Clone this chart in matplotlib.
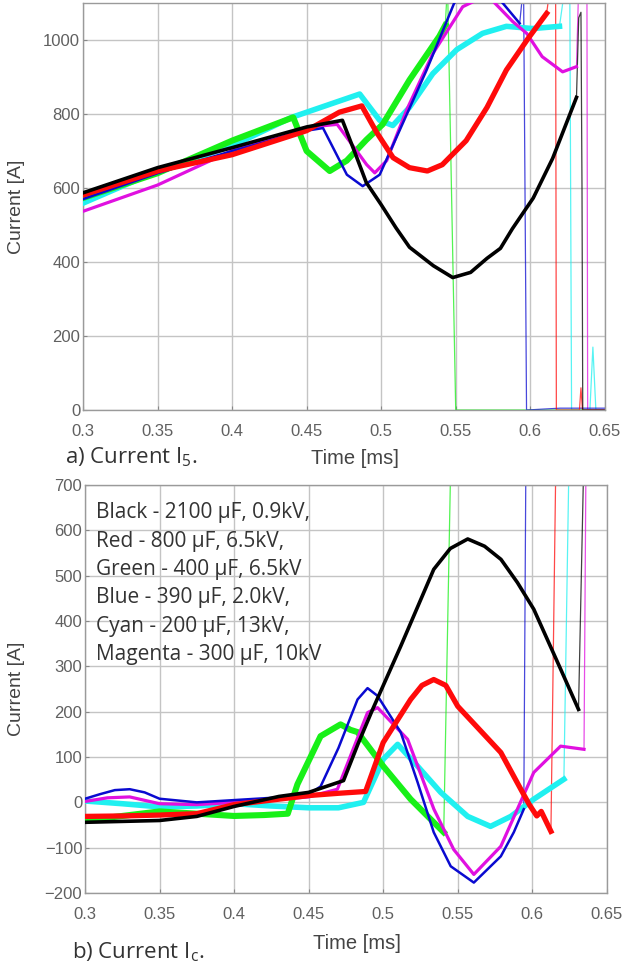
import matplotlib
matplotlib.use("Agg")
import matplotlib.pyplot as plt

# ---- panel a) current I5, time in ms, current in A ----
black_t_a = [0.30, 0.35, 0.40, 0.45, 0.474, 0.482, 0.490, 0.500, 0.510, 0.519, 0.535, 0.548, 0.560, 0.571, 0.580, 0.588, 0.602, 0.615, 0.631]
black_i_a = [587, 655, 709, 765, 783, 700, 615, 555, 492, 440, 390, 358, 372, 410, 437, 490, 573, 680, 845]
black_tail_t_a = [0.631, 0.6325, 0.634, 0.6347, 0.6352, 0.65]
black_tail_i_a = [845, 1060, 1075, 600, 0, 0]

red_t_a = [0.30, 0.35, 0.40, 0.45, 0.472, 0.487, 0.497, 0.508, 0.519, 0.531, 0.541, 0.557, 0.571, 0.584, 0.598, 0.602, 0.611]
red_i_a = [581, 646, 690, 755, 805, 822, 750, 682, 655, 646, 663, 728, 818, 919, 1001, 1023, 1072]
red_tail_t_a = [0.611, 0.6135, 0.617, 0.6175, 0.633, 0.634, 0.635, 0.65]
red_tail_i_a = [1072, 1150, 1150, 0, 0, 60, 0, 0]

green_t_a = [0.30, 0.35, 0.40, 0.441, 0.450, 0.4655, 0.4769, 0.490, 0.501, 0.519, 0.539, 0.543]
green_i_a = [573, 640, 728, 791, 700, 646, 674, 730, 772, 892, 1010, 1040]
green_tail_t_a = [0.543, 0.5445, 0.550, 0.65]
green_tail_i_a = [1040, 1150, 0, 0]

blue_t_a = [0.30, 0.35, 0.40, 0.45, 0.461, 0.477, 0.4876, 0.499, 0.5124, 0.5305, 0.549, 0.556, 0.565, 0.575, 0.5815, 0.5929]
blue_i_a = [570, 640, 700, 755, 762, 636, 605, 636, 756, 919, 1100, 1125, 1135, 1125, 1100, 1045]
blue_tail_t_a = [0.5929, 0.5955, 0.5975, 0.62, 0.65]
blue_tail_i_a = [1045, 1150, 0, 5, 5]

magenta_t_a = [0.30, 0.35, 0.40, 0.45, 0.4705, 0.4903, 0.4957, 0.5037, 0.517, 0.5346, 0.5547, 0.565, 0.575, 0.5882, 0.5976, 0.608, 0.6217, 0.631]
magenta_i_a = [537, 608, 701, 764, 772, 663, 641, 674, 810, 963, 1090, 1110, 1105, 1050, 1018, 955, 914, 928]
magenta_tail_t_a = [0.631, 0.6325, 0.638, 0.6385, 0.65]
magenta_tail_i_a = [928, 1150, 1150, 0, 0]

cyan_t_a = [0.30, 0.35, 0.40, 0.44, 0.4856, 0.499, 0.5078, 0.519, 0.5346, 0.5507, 0.568, 0.584, 0.6016, 0.6196]
cyan_i_a = [559, 646, 714, 791, 854, 783, 769, 818, 909, 974, 1018, 1037, 1031, 1037]
cyan_tail_t_a = [0.6196, 0.6235, 0.6265, 0.6277, 0.640, 0.642, 0.644, 0.65]
cyan_tail_i_a = [1037, 1150, 1150, 0, 0, 170, 0, 0]

# ---- panel b) current Ic ----
black_t_b = [0.30, 0.325, 0.35, 0.375, 0.40, 0.43, 0.45, 0.4734, 0.483, 0.4929, 0.5117, 0.5339, 0.545, 0.5567, 0.568, 0.579, 0.590, 0.601, 0.619, 0.631]
black_i_b = [-44, -42, -40, -31, -9, 13, 22, 48, 128, 205, 344, 514, 560, 581, 565, 536, 485, 426, 294, 205]
black_tail_t_b = [0.631, 0.6345, 0.636]
black_tail_i_b = [205, 750, 750]

red_t_b = [0.30, 0.325, 0.35, 0.375, 0.40, 0.425, 0.45, 0.47, 0.4882, 0.50, 0.5184, 0.526, 0.5339, 0.542, 0.55, 0.5789, 0.5923, 0.598, 0.603, 0.606, 0.6125]
red_i_b = [-31, -30, -28, -25, -5, 5, 15, 20, 24, 132, 227, 258, 271, 258, 212, 110, 29, -5, -30, -20, -64]
red_tail_t_b = [0.6125, 0.6158, 0.617]
red_tail_i_b = [-64, 750, 750]

green_t_b = [0.30, 0.325, 0.35, 0.375, 0.40, 0.42, 0.436, 0.4425, 0.458, 0.4714, 0.478, 0.4828, 0.50, 0.5184, 0.5339, 0.5406]
green_i_b = [-40, -30, -20, -25, -30, -28, -25, 40, 146, 172, 160, 155, 80, 7, -44, -66]
green_tail_t_b = [0.5406, 0.5453, 0.546]
green_tail_i_b = [-66, 750, 750]

blue_t_b = [0.30, 0.31, 0.32, 0.33, 0.34, 0.35, 0.375, 0.40, 0.425, 0.45, 0.458, 0.470, 0.4828, 0.4895, 0.4962, 0.5117, 0.5231, 0.5339, 0.5453, 0.5608, 0.5789, 0.5876, 0.5943]
blue_i_b = [8, 18, 27, 29, 22, 8, 0, 5, 10, 18, 35, 120, 227, 252, 235, 155, 44, -66, -141, -177, -119, -66, -15]
blue_tail_t_b = [0.5943, 0.5957, 0.597]
blue_tail_i_b = [-15, 750, 750]

magenta_t_b = [0.30, 0.315, 0.33, 0.35, 0.375, 0.40, 0.425, 0.45, 0.4693, 0.4895, 0.4962, 0.5164, 0.534, 0.5473, 0.5608, 0.5789, 0.590, 0.601, 0.619, 0.6347]
magenta_i_b = [2, 10, 12, -3, -5, 0, 5, 12, 29, 198, 209, 139, -15, -104, -159, -97, -15, 66, 124, 117]
magenta_tail_t_b = [0.6347, 0.636, 0.637]
magenta_tail_i_b = [117, 750, 750]

cyan_t_b = [0.30, 0.325, 0.35, 0.375, 0.40, 0.425, 0.45, 0.47, 0.4868, 0.50, 0.5097, 0.523, 0.5386, 0.5567, 0.572, 0.5856, 0.601, 0.6212]
cyan_i_b = [3, -3, -10, -8, -3, -8, -12, -12, 0, 95, 128, 80, 22, -31, -53, -31, 7, 51]
cyan_tail_t_b = [0.6212, 0.6246, 0.626]
cyan_tail_i_b = [51, 750, 750]

x_ticks = [0.3, 0.35, 0.4, 0.45, 0.5, 0.55, 0.6, 0.65]
x_tick_labels = ["0.3", "0.35", "0.4", "0.45", "0.5", "0.55", "0.6", "0.65"]

legend_lines = [
    "Black - 2100 \u00b5F, 0.9kV,",
    "Red - 800 \u00b5F, 6.5kV,",
    "Green - 400 \u00b5F, 6.5kV",
    "Blue - 390 \u00b5F, 2.0kV,",
    "Cyan - 200 \u00b5F, 13kV,",
    "Magenta - 300 \u00b5F, 10kV",
]

plt.rcParams["mathtext.fontset"] = "custom"
plt.rcParams["mathtext.rm"] = "Open Sans"

COL = {"black": "#000000", "red": "#ff0a0a", "green": "#18f018", "blue": "#0a0ad0",
       "magenta": "#e010e0", "cyan": "#20f0f0"}
LW = {"black": 2.6, "red": 3.8, "green": 4.4, "blue": 1.8, "magenta": 2.3, "cyan": 4.0}
ORDER = ["cyan", "green", "magenta", "blue", "red", "black"]


def style_axes(ax, ylim, yticks, ylab_x, xlab_y):
    ax.set_xlim(0.3, 0.65)
    ax.set_ylim(*ylim)
    ax.set_xticks(x_ticks)
    ax.set_xticklabels(x_tick_labels)
    ax.set_yticks(yticks)
    ax.grid(True, color="#c4c4c4", linewidth=1.0)
    ax.set_axisbelow(True)
    for s in ax.spines.values():
        s.set_color("#9a9a9a")
        s.set_linewidth(1.0)
    ax.tick_params(direction="in", length=3, color="#888888", labelcolor="#606060",
                   labelsize=12)
    ax.tick_params(axis="x", pad=10)
    ax.tick_params(axis="y", pad=2)
    for lab in ax.get_xticklabels() + ax.get_yticklabels():
        lab.set_family("Liberation Sans")
    ax.set_ylabel("Current [A]", family="Liberation Sans", fontsize=14, color="#444444", va="center")
    ax.set_xlabel("Time [ms]", family="Liberation Sans", fontsize=14.5, color="#444444", va="center")
    ax.yaxis.set_label_coords(ylab_x, 0.5)
    ax.xaxis.set_label_coords(0.521, xlab_y)


def draw(ax, data):
    for name in ORDER:
        t, i, tt, ti = data[name]
        ax.plot(tt, ti, color=COL[name], linewidth=0.9, alpha=0.75, zorder=2)
        ax.plot(t, i, color=COL[name], linewidth=LW[name], solid_joinstyle="round", zorder=3)


fig = plt.figure(figsize=(6.31, 9.73), dpi=100)

ax1 = fig.add_axes([0.1315, 0.5786, 0.827, 0.4183])
draw(ax1, {
    "black": (black_t_a, black_i_a, black_tail_t_a, black_tail_i_a),
    "red": (red_t_a, red_i_a, red_tail_t_a, red_tail_i_a),
    "green": (green_t_a, green_i_a, green_tail_t_a, green_tail_i_a),
    "blue": (blue_t_a, blue_i_a, blue_tail_t_a, blue_tail_i_a),
    "magenta": (magenta_t_a, magenta_i_a, magenta_tail_t_a, magenta_tail_i_a),
    "cyan": (cyan_t_a, cyan_i_a, cyan_tail_t_a, cyan_tail_i_a),
})
style_axes(ax1, (0, 1100), [0, 200, 400, 600, 800, 1000], -0.127, -0.118)

ax2 = fig.add_axes([0.1347, 0.0822, 0.827, 0.4193])
draw(ax2, {
    "black": (black_t_b, black_i_b, black_tail_t_b, black_tail_i_b),
    "red": (red_t_b, red_i_b, red_tail_t_b, red_tail_i_b),
    "green": (green_t_b, green_i_b, green_tail_t_b, green_tail_i_b),
    "blue": (blue_t_b, blue_i_b, blue_tail_t_b, blue_tail_i_b),
    "magenta": (magenta_t_b, magenta_i_b, magenta_tail_t_b, magenta_tail_i_b),
    "cyan": (cyan_t_b, cyan_i_b, cyan_tail_t_b, cyan_tail_i_b),
})
style_axes(ax2, (-200, 700), list(range(-200, 701, 100)), -0.131, -0.123)

for k, line in enumerate(legend_lines):
    ax2.text(0.022, 0.932 - k * 0.0695, line, transform=ax2.transAxes, family="Open Sans",
             fontsize=15, color="#333333", va="center", ha="left", zorder=5)

fig.text(65 / 631, 1 - 457 / 973, r"a) Current I$_{\mathrm{5}}$.", family="Open Sans",
         fontsize=16, color="#333333", va="center", ha="left")
fig.text(72 / 631, 1 - 952 / 973, r"b) Current I$_{\mathrm{c}}$.", family="Open Sans",
         fontsize=16, color="#333333", va="center", ha="left")

fig.savefig("out.png", dpi=100)
